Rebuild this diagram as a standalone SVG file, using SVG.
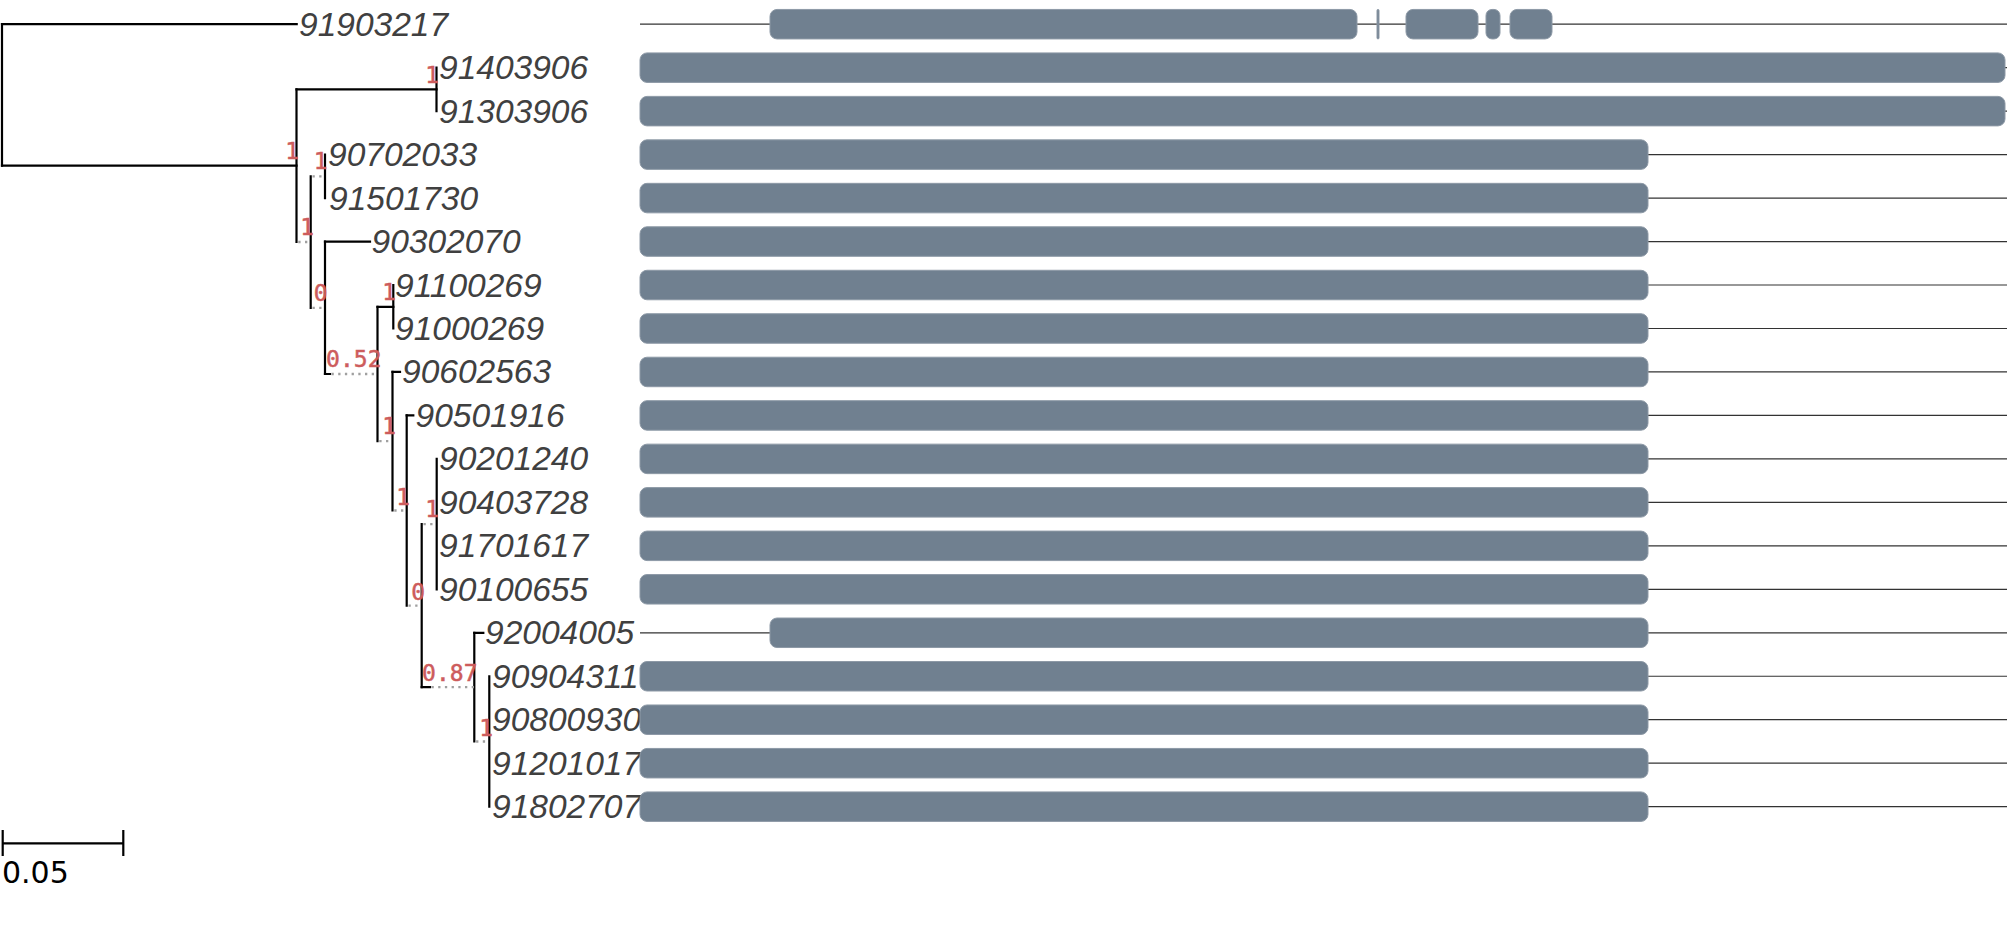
<svg xmlns="http://www.w3.org/2000/svg" width="2007" height="951" viewBox="0 0 2007 951">
<style>
.lbl{font-family:"Liberation Sans",Arial,sans-serif;font-style:italic;font-size:33.5px;fill:#404040}
.sup{font-family:"DejaVu Sans Mono","Liberation Mono",monospace;font-size:23px;fill:#cd5c5c;stroke:#cd5c5c;stroke-width:0.5;text-anchor:end}
.br{stroke:#000;stroke-width:2.2;fill:none;stroke-linecap:square}
.dot{stroke:#a0a0a0;stroke-width:2.3;stroke-dasharray:2.3 4.4;fill:none}
.trk{stroke:#333;stroke-width:1.2}
.bar{fill:#708090;stroke:#8d99a6;stroke-width:1}
.scl{font-family:"DejaVu Sans",sans-serif;font-size:30px;fill:#000}
</style>
<rect width="2007" height="951" fill="#fff"/>
<g id="connectors">
<path class="br" d="M2,24.2V165.7M296.5,89.4V242M436.5,67.67V111.14M310.7,176.3V307.8M325,154.61V198.08M325,241.55V374M377.5,306.8V441.2M393.3,285.02V328.49M392.5,371.96V510.5M406.7,415.43V605.6M421.7,524.1V687.1M436.7,458.9V589.31M474.3,632.78V741.5M489.3,676.25V806.66"/>
<path class="br" d="M2,24.2H296.7M2,165.7H296.5M296.5,89.4H436.5M325,241.55H370M377.5,306.8H393.3M392.5,371.96H400M406.7,415.43H413.3M474.3,632.78H483.3M325,374H330M421.7,687.1H430"/>
<path class="dot" d="M298.3,242H310.7M312.5,176.3H325M312.5,307.8H325M331.5,374H377.5M379.3,441.2H392.5M394.3,510.5H406.7M408.5,605.6H421.7M423.5,524.1H436.7M431.5,687.1H474.3M476.1,741.5H489.3"/>
</g>
<g id="node-A"><text class="sup" x="299" y="159">1</text></g>
<g id="node-B"><text class="sup" x="439" y="82.5">1</text></g>
<g id="node-C"><text class="sup" x="314" y="235">1</text></g>
<g id="node-E"><text class="sup" x="327.5" y="169">1</text></g>
<g id="node-D"><text class="sup" x="327.5" y="300.5">0</text></g>
<g id="node-F"><text class="sup" x="381.5" y="367">0.52</text></g>
<g id="node-G"><text class="sup" x="396" y="300">1</text></g>
<g id="node-H"><text class="sup" x="396" y="434">1</text></g>
<g id="node-I"><text class="sup" x="410" y="504.5">1</text></g>
<g id="node-J"><text class="sup" x="425" y="599.5">0</text></g>
<g id="node-K"><text class="sup" x="439" y="517">1</text></g>
<g id="node-L"><text class="sup" x="477.5" y="680.5">0.87</text></g>
<g id="node-M"><text class="sup" x="493" y="736">1</text></g>

<g id="leaf-91903217"><text class="lbl" x="299" y="35.7">91903217</text><line class="trk" x1="640" y1="24.2" x2="2007" y2="24.2"/><rect class="bar" x="770" y="9.45" width="587" height="29.5" rx="7"/><rect class="bar" x="1377" y="9.45" width="2" height="29.5" rx="1"/><rect class="bar" x="1406" y="9.45" width="72" height="29.5" rx="7"/><rect class="bar" x="1486" y="9.45" width="14" height="29.5" rx="6"/><rect class="bar" x="1510" y="9.45" width="42" height="29.5" rx="7"/></g>
<g id="leaf-91403906"><text class="lbl" x="439" y="79.17">91403906</text><line class="trk" x1="640" y1="67.67" x2="2007" y2="67.67"/><rect class="bar" x="640" y="52.92" width="1365" height="29.5" rx="7"/></g>
<g id="leaf-91303906"><text class="lbl" x="439" y="122.64">91303906</text><line class="trk" x1="640" y1="111.14" x2="2007" y2="111.14"/><rect class="bar" x="640" y="96.39" width="1365" height="29.5" rx="7"/></g>
<g id="leaf-90702033"><text class="lbl" x="328" y="166.11">90702033</text><line class="trk" x1="640" y1="154.61" x2="2007" y2="154.61"/><rect class="bar" x="640" y="139.86" width="1008" height="29.5" rx="7"/></g>
<g id="leaf-91501730"><text class="lbl" x="329" y="209.58">91501730</text><line class="trk" x1="640" y1="198.08" x2="2007" y2="198.08"/><rect class="bar" x="640" y="183.33" width="1008" height="29.5" rx="7"/></g>
<g id="leaf-90302070"><text class="lbl" x="371.5" y="253.05">90302070</text><line class="trk" x1="640" y1="241.55" x2="2007" y2="241.55"/><rect class="bar" x="640" y="226.8" width="1008" height="29.5" rx="7"/></g>
<g id="leaf-91100269"><text class="lbl" x="395" y="296.52">91100269</text><line class="trk" x1="640" y1="285.02" x2="2007" y2="285.02"/><rect class="bar" x="640" y="270.27" width="1008" height="29.5" rx="7"/></g>
<g id="leaf-91000269"><text class="lbl" x="395" y="339.99">91000269</text><line class="trk" x1="640" y1="328.49" x2="2007" y2="328.49"/><rect class="bar" x="640" y="313.74" width="1008" height="29.5" rx="7"/></g>
<g id="leaf-90602563"><text class="lbl" x="402" y="383.46">90602563</text><line class="trk" x1="640" y1="371.96" x2="2007" y2="371.96"/><rect class="bar" x="640" y="357.21" width="1008" height="29.5" rx="7"/></g>
<g id="leaf-90501916"><text class="lbl" x="415.5" y="426.93">90501916</text><line class="trk" x1="640" y1="415.43" x2="2007" y2="415.43"/><rect class="bar" x="640" y="400.68" width="1008" height="29.5" rx="7"/></g>
<g id="leaf-90201240"><text class="lbl" x="439" y="470.4">90201240</text><line class="trk" x1="640" y1="458.9" x2="2007" y2="458.9"/><rect class="bar" x="640" y="444.15" width="1008" height="29.5" rx="7"/></g>
<g id="leaf-90403728"><text class="lbl" x="439" y="513.87">90403728</text><line class="trk" x1="640" y1="502.37" x2="2007" y2="502.37"/><rect class="bar" x="640" y="487.62" width="1008" height="29.5" rx="7"/></g>
<g id="leaf-91701617"><text class="lbl" x="439" y="557.34">91701617</text><line class="trk" x1="640" y1="545.84" x2="2007" y2="545.84"/><rect class="bar" x="640" y="531.09" width="1008" height="29.5" rx="7"/></g>
<g id="leaf-90100655"><text class="lbl" x="439" y="600.81">90100655</text><line class="trk" x1="640" y1="589.31" x2="2007" y2="589.31"/><rect class="bar" x="640" y="574.56" width="1008" height="29.5" rx="7"/></g>
<g id="leaf-92004005"><text class="lbl" x="485" y="644.28">92004005</text><line class="trk" x1="640" y1="632.78" x2="2007" y2="632.78"/><rect class="bar" x="770" y="618.03" width="878" height="29.5" rx="7"/></g>
<g id="leaf-90904311"><text class="lbl" x="492" y="687.75">90904311</text><line class="trk" x1="640" y1="676.25" x2="2007" y2="676.25"/><rect class="bar" x="640" y="661.5" width="1008" height="29.5" rx="7"/></g>
<g id="leaf-90800930"><text class="lbl" x="492" y="731.22">90800930</text><line class="trk" x1="640" y1="719.72" x2="2007" y2="719.72"/><rect class="bar" x="640" y="704.97" width="1008" height="29.5" rx="7"/></g>
<g id="leaf-91201017"><text class="lbl" x="492" y="774.69">91201017</text><line class="trk" x1="640" y1="763.19" x2="2007" y2="763.19"/><rect class="bar" x="640" y="748.44" width="1008" height="29.5" rx="7"/></g>
<g id="leaf-91802707"><text class="lbl" x="492" y="818.16">91802707</text><line class="trk" x1="640" y1="806.66" x2="2007" y2="806.66"/><rect class="bar" x="640" y="791.91" width="1008" height="29.5" rx="7"/></g>

<g id="scale-bar">
<path class="br" style="stroke-linecap:butt" d="M2.7,843.3H123.3M2.7,830V856M123.3,830V856"/>
<text class="scl" x="2" y="883.3">0.05</text>
</g>
</svg>
